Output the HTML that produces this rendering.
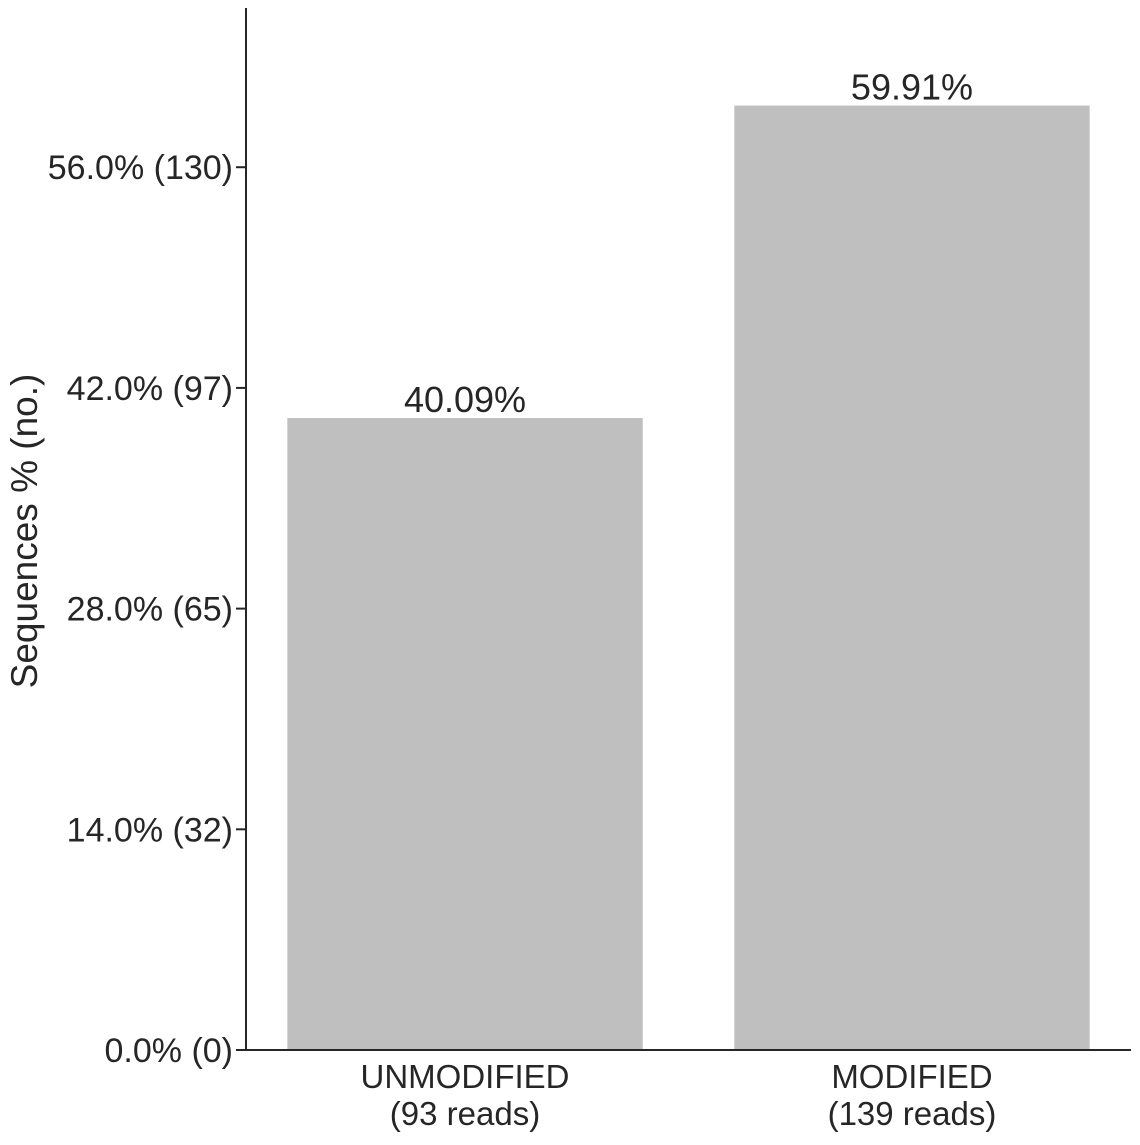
<!DOCTYPE html>
<html><head><meta charset="utf-8"><style>
html,body{margin:0;padding:0;background:#fff;}
svg text{font-family:"Liberation Sans",Arial,sans-serif;fill:#262626;}
</style></head><body>
<svg id="chart" width="1140" height="1140" viewBox="0 0 1140 1140">
<g id="plot"></g>
</svg>
<script>
const categories = ["UNMODIFIED", "MODIFIED"];
const readCounts = [93, 139];
const percentValues = [40.09, 59.91];
const valueLabels = ["40.09%", "59.91%"];
const tickValues = [0, 14, 28, 42, 56];
const tickLabels = ["0.0% (0)", "14.0% (32)", "28.0% (65)", "42.0% (97)", "56.0% (130)"];

const NS = "http://www.w3.org/2000/svg";
const plotG = document.getElementById('plot');
const plotLeft = 246, plotRight = 1131, plotBottom = 1050, plotTop = 8;
const yMax = 66.1;
const xMin = -0.49, xMax = 1.49;
function yScale(v){ return plotBottom - v / yMax * (plotBottom - plotTop); }
function xScale(i){ return plotLeft + (i - xMin) / (xMax - xMin) * (plotRight - plotLeft); }
const bandPx = xScale(1) - xScale(0);
function mk(tag, attrs, text){
  const e = document.createElementNS(NS, tag);
  for (const k in attrs) e.setAttribute(k, attrs[k]);
  if (text !== undefined) e.textContent = text;
  plotG.appendChild(e);
  return e;
}
percentValues.forEach((v, i) => {
  const w = bandPx * 0.795;
  const r = mk('rect', {x: xScale(i) - w/2, y: yScale(v), width: w, height: yScale(0) - yScale(v), fill: '#bfbfbf'});
  
  
  const t = mk('text', {x: xScale(i), y: yScale(v) - 6, 'font-size': 36, 'text-anchor': 'middle'}, valueLabels[i]);
  
  
  const c1 = mk('text', {x: xScale(i), y: 1088, 'font-size': 33, 'text-anchor': 'middle'}, categories[i]);
  
  
  const c2 = mk('text', {x: xScale(i), y: 1125, 'font-size': 33, 'text-anchor': 'middle'}, '(' + readCounts[i] + ' reads)');
  
  
});
tickValues.forEach((v, i) => {
  const l = mk('line', {x1: plotLeft - 10, x2: plotLeft, y1: yScale(v), y2: yScale(v), stroke: '#262626', 'stroke-width': 2});
  
  
  const t = mk('text', {x: plotLeft - 13, y: yScale(v) + 12, 'font-size': 34, 'text-anchor': 'end'}, tickLabels[i]);
  
  
});
const yAxisLine = mk('line', {x1: plotLeft, x2: plotLeft, y1: plotTop, y2: plotBottom + 1, stroke: '#262626', 'stroke-width': 2});


const xAxisLine = mk('line', {x1: plotLeft - 1, x2: plotRight, y1: plotBottom, y2: plotBottom, stroke: '#262626', 'stroke-width': 2});


const yTitle = mk('text', {x: 0, y: 0, 'font-size': 37, 'text-anchor': 'middle', transform: 'translate(37,531) rotate(-90)'}, 'Sequences % (no.)');


</script>
</body></html>
